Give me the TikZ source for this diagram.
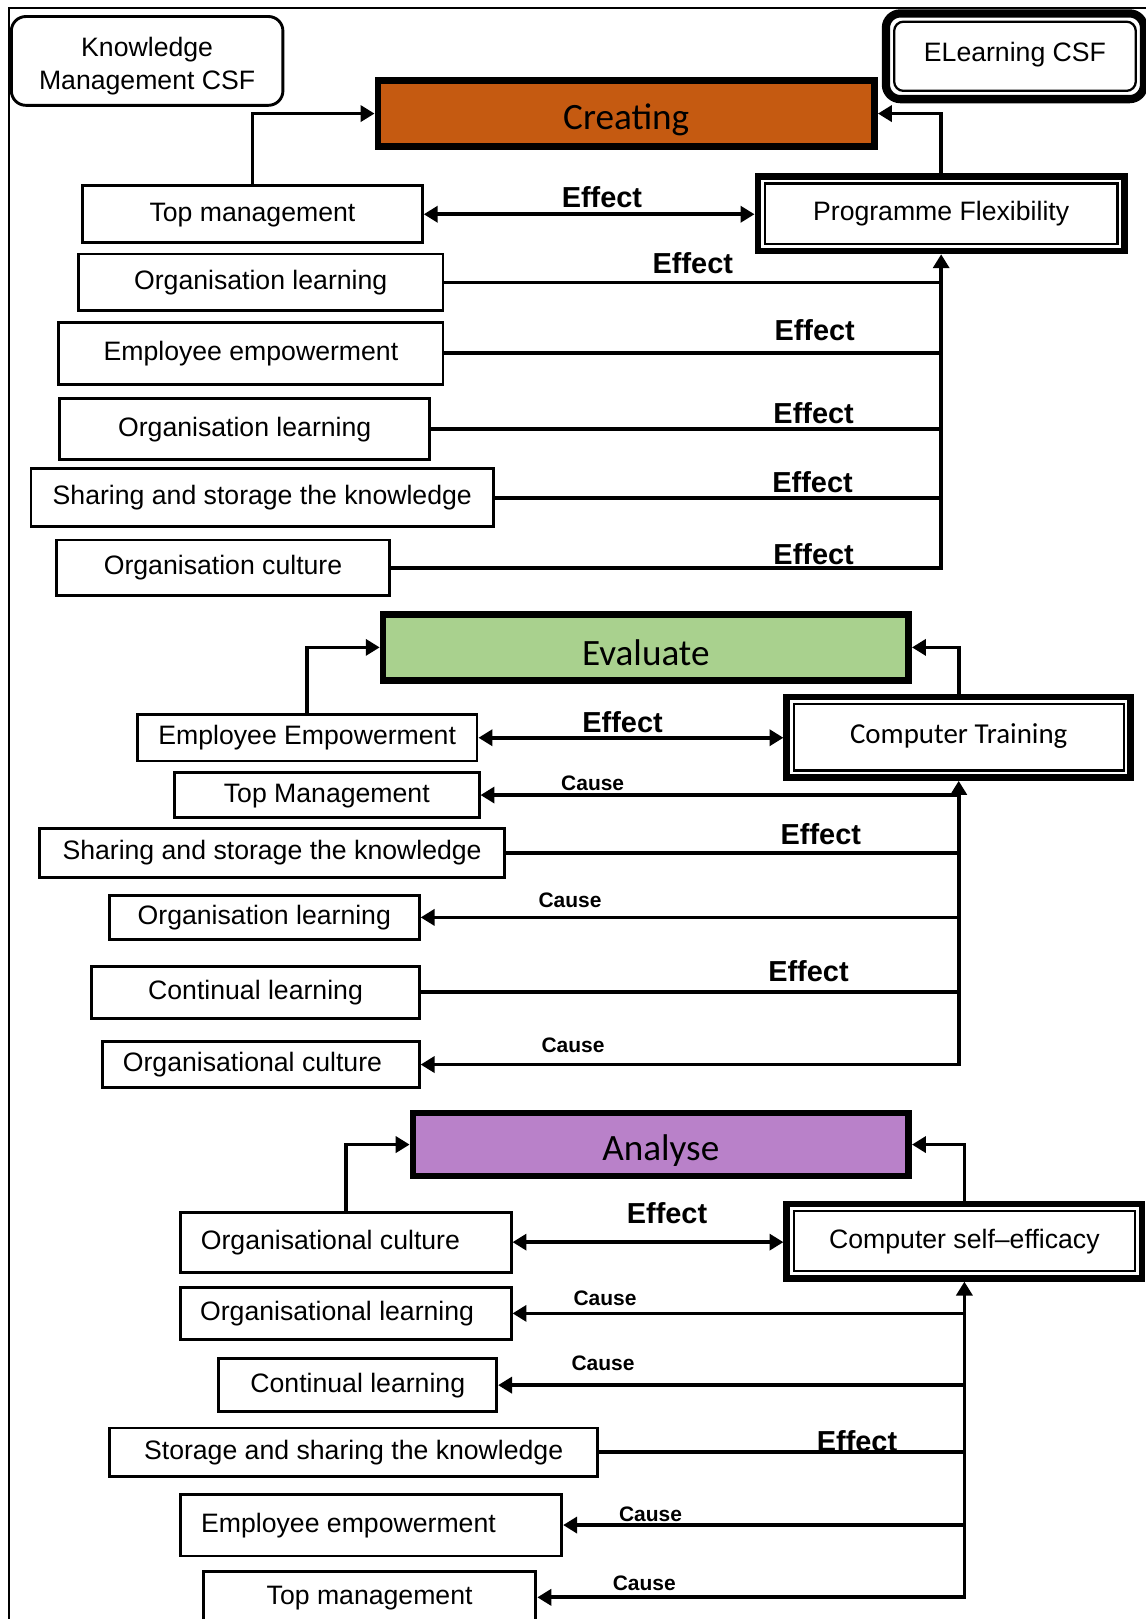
\documentclass[tikz,border=0pt]{standalone}
\usepackage{fontspec}
\setmainfont{Liberation Sans}
\newfontfamily\carlito{Carlito}
\usetikzlibrary{arrows.meta}

\definecolor{createfill}{HTML}{C55A11}
\definecolor{evalfill}{HTML}{A9D18E}
\definecolor{analysefill}{HTML}{B981C9}

\begin{document}
\begin{tikzpicture}[x=1pt,y=-1pt,
  box/.style={draw, line width=2.8pt, fill=white, inner sep=0pt,
    font=\fontsize{25.8}{30}\selectfont, text height=19pt, text depth=5.4pt},
  tshift/.style={execute at begin node={\hspace*{#1}}},
  stage/.style={draw, line width=6.5pt, inner sep=0pt,
    font=\carlito\fontsize{36}{40}\selectfont, text height=36pt, text depth=4.8pt},
  keybox/.style={draw, line width=6.5pt, fill=white, inner sep=0pt,
    font=\fontsize{25.8}{30}\selectfont, text height=19pt, text depth=5.4pt},
  rim/.style={line width=2.2pt},
  conn/.style={line width=3.6pt},
  tip/.style={-{Triangle[length=13.5pt,width=15.5pt]}},
  both/.style={{Triangle[length=13.5pt,width=15.5pt]}-{Triangle[length=13.5pt,width=15.5pt]}},
  eff/.style={font=\bfseries\fontsize{28}{30}\selectfont, inner sep=0pt, text height=20pt, text depth=0pt},
  cau/.style={font=\bfseries\fontsize{20.3}{24}\selectfont, inner sep=0pt, text height=14.5pt, text depth=0pt},
]
\useasboundingbox (0,0) rectangle (1109,1568);

% outer frame
\draw[line width=2.3pt] (9,1575) -- (9,8) -- (1115,8);

% legend boxes
\node[draw, line width=2.8pt, rounded corners=14pt, fill=white, inner sep=0pt,
  minimum width=263pt, minimum height=86pt] (km) at (142.5,59) {};
\node[align=center, inner sep=0pt, font=\fontsize{25.8}{32}\selectfont] (kmtext)
  at ([yshift=-5pt]km.center) {Knowledge\\Management CSF};
\node[draw, line width=8pt, rounded corners=14pt, fill=white, inner sep=0pt,
  minimum width=250pt, minimum height=83pt,
  font=\fontsize{25.8}{30}\selectfont, text height=19pt, text depth=9pt] (el) at (983,54.5) {ELearning CSF};
\draw[rim, rounded corners=9pt] ([shift={(12,12)}]el.north west) rectangle ([shift={(-12,-12)}]el.south east);

% ---------------- Creating ----------------
\node[stage, fill=createfill, minimum width=481pt, minimum height=64pt] (creating) at (606.5,110) {Creating};
\node[keybox, minimum width=355pt, minimum height=72pt] (pf) at (911.5,207) {Programme Flexibility};
\draw[rim] ([shift={(10,10)}]pf.north west) rectangle ([shift={(-10,-10)}]pf.south east);

\node[box, minimum width=329pt, minimum height=55pt] (tm1) at (244.5,207.5) {Top management};
\node[box, minimum width=353pt, minimum height=55pt] (ol1) at (252.5,273.5) {Organisation learning};
\node[box, minimum width=372pt, minimum height=60pt] (ee1) at (243,342) {Employee empowerment};
\node[box, minimum width=358pt, minimum height=59pt] (ol2) at (237,415.5) {Organisation learning};
\node[box, minimum width=448pt, minimum height=56pt] (ss1) at (254,482) {Sharing and storage the knowledge};
\node[box, minimum width=322pt, minimum height=54pt] (oc1) at (216,550) {Organisation culture};

\draw[conn,tip] (tm1.north) |- (creating.west);
\draw[conn,tip] (pf.north) |- (creating.east);
\draw[conn,both] (tm1.east) -- (tm1.east -| pf.west);
\draw[conn] (ol1.east) -- (ol1.east -| pf.south);
\draw[conn] (ee1.east) -- (ee1.east -| pf.south);
\draw[conn] (ol2.east) -- (ol2.east -| pf.south);
\draw[conn] (ss1.east) -- (ss1.east -| pf.south);
\draw[conn,tip] (oc1.east) -| (pf.south);

\node[eff] (l1) at (583,191) {Effect};
\node[eff] (l2) at (671,255) {Effect};
\node[eff] (l3) at (789,320) {Effect};
\node[eff] (l4) at (788,400) {Effect};
\node[eff] (l5) at (787,467) {Effect};
\node[eff] (l6) at (788,537) {Effect};

% ---------------- Evaluate ----------------
\node[stage, fill=evalfill, minimum width=509pt, minimum height=64pt, text depth=1pt] (evaluate) at (625.5,627) {Evaluate};
\node[keybox, minimum width=333pt, minimum height=78pt, font=\carlito\fontsize{28}{32}\selectfont,
  text height=20pt, text depth=8pt] (ct) at (928.5,714) {Computer Training};
\draw[rim] ([shift={(10,10)}]ct.north west) rectangle ([shift={(-10,-10)}]ct.south east);

\node[box, minimum width=329pt, minimum height=45pt] (ee2) at (297.5,714.5) {Employee Empowerment};
\node[box, minimum width=295pt, minimum height=44pt] (tm2) at (316.5,770) {Top Management};
\node[box, minimum width=451pt, minimum height=48pt] (ss2) at (263.5,826) {Sharing and storage the knowledge};
\node[box, minimum width=300pt, minimum height=43pt] (ol3) at (256,888.5) {Organisation learning};
\node[box, minimum width=317pt, minimum height=50pt] (cl1) at (247.5,961) {Continual learning};
\node[box, minimum width=307pt, minimum height=44pt, tshift=-16pt] (oc2) at (252.5,1031) {Organisational culture};

\draw[conn,tip] (ee2.north) |- (evaluate.west);
\draw[conn,tip] (ct.north) |- (evaluate.east);
\draw[conn,both] (ee2.east) -- (ee2.east -| ct.west);
\draw[conn,tip] (tm2.east -| ct.south) -- (tm2.east);
\draw[conn] (ss2.east) -- (ss2.east -| ct.south);
\draw[conn,tip] (ol3.east -| ct.south) -- (ol3.east);
\draw[conn] (cl1.east) -- (cl1.east -| ct.south);
\draw[conn,tip] (cl1.east -| ct.south) -- (oc2.east -| ct.south) -- (oc2.east);
\draw[conn,tip] (oc2.east -| ct.south) -- (ct.south);

\node[eff] (m1) at (603,699) {Effect};
\node[cau] (m2) at (574,758) {Cause};
\node[eff] (m3) at (795,808) {Effect};
\node[cau] (m4) at (552,872) {Cause};
\node[eff] (m5) at (783,941) {Effect};
\node[cau] (m6) at (555,1012) {Cause};

% ---------------- Analyse ----------------
\node[stage, fill=analysefill, minimum width=480pt, minimum height=61pt] (analyse) at (640,1108.5) {Analyse};
\node[keybox, minimum width=344pt, minimum height=72pt] (cse) at (934,1202) {Computer self–efficacy};
\draw[rim] ([shift={(10,10)}]cse.north west) rectangle ([shift={(-10,-10)}]cse.south east);

\node[box, minimum width=320pt, minimum height=58pt, tshift=-30pt] (oc3) at (335,1203) {Organisational culture};
\node[box, minimum width=320pt, minimum height=50pt, tshift=-17pt] (ol4) at (335,1272) {Organisational learning};
\node[box, minimum width=269pt, minimum height=51pt] (cl2) at (346.5,1341.5) {Continual learning};
\node[box, minimum width=473pt, minimum height=47pt] (ss3) at (342.5,1406.5) {Storage and sharing the knowledge};
\node[box, minimum width=369pt, minimum height=60pt, tshift=-44pt] (ee3) at (359.5,1477) {Employee empowerment};
\node[box, minimum width=322pt, minimum height=50pt] (tm3) at (358,1547) {Top management};

\draw[conn,tip] (oc3.north) |- (analyse.west);
\draw[conn,tip] (cse.north) |- (analyse.east);
\draw[conn,both] (oc3.east) -- (oc3.east -| cse.west);
\draw[conn,tip] (ol4.east -| cse.south) -- (ol4.east);
\draw[conn,tip] (cl2.east -| cse.south) -- (cl2.east);
\draw[conn] (ss3.east) -- (ss3.east -| cse.south);
\draw[conn,tip] (ee3.east -| cse.south) -- (ee3.east);
\draw[conn,tip] (ee3.east -| cse.south) -- (tm3.east -| cse.south) -- (tm3.east);
\draw[conn,tip] (tm3.east -| cse.south) -- (cse.south);

\node[eff] (n1) at (646,1175) {Effect};
\node[cau] (n2) at (586,1257) {Cause};
\node[cau] (n3) at (584,1320) {Cause};
\node[eff] (n4) at (830,1396) {Effect};
\node[cau] (n5) at (630,1466) {Cause};
\node[cau] (n6) at (624,1533) {Cause};

\end{tikzpicture}
\end{document}
